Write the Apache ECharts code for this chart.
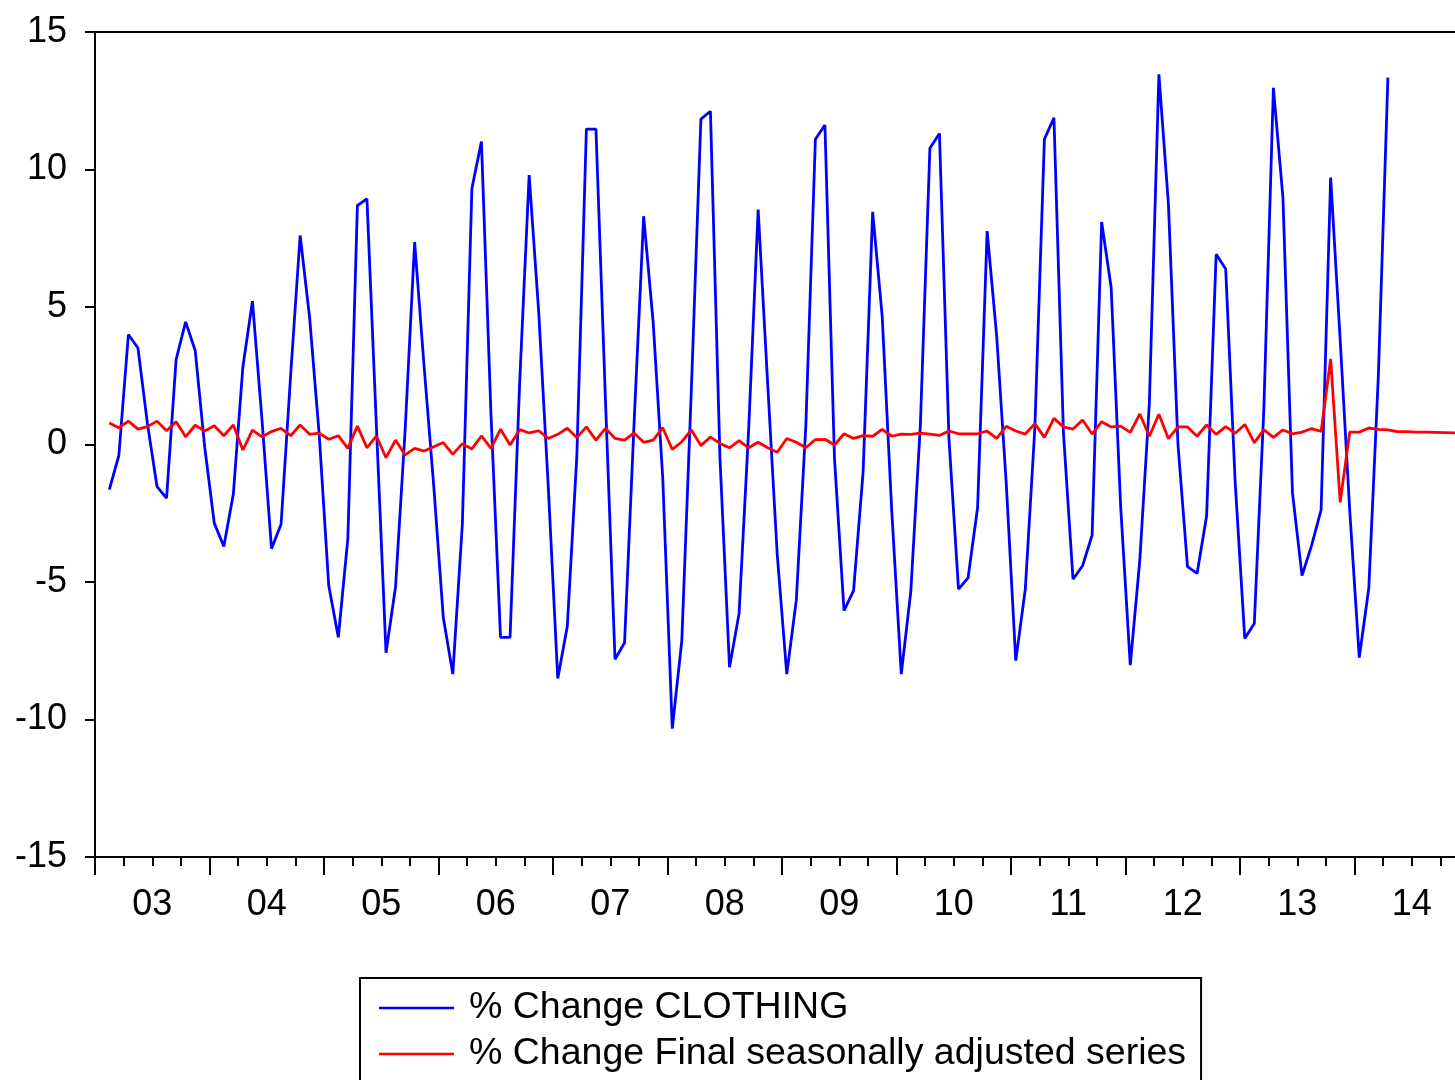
<!DOCTYPE html>
<html>
<head>
<meta charset="utf-8">
<script src="https://cdn.jsdelivr.net/npm/echarts@6/dist/echarts.min.js"></script>
<style>
html,body{margin:0;padding:0;background:#fff;overflow:hidden;}
#chart{width:1480px;height:1120px;}
</style>
</head>
<body>
<div id="chart"></div>
<script>
// Monthly axis: Jan 2003 (index 0) ... Dec 2014 (index 143)
const yearLabels = ['03','04','05','06','07','08','09','10','11','12','13','14'];
const firstIndex = 1; // both series start in Feb 2003

// % Change CLOTHING (Feb 2003 - Apr 2014)
const clothing = [
  -1.64,-0.40,4.00,3.51,0.75,-1.53,-1.95,3.09,4.46,3.42,-0.10,
  -2.86,-3.71,-1.80,2.83,5.21,0.90,-3.79,-2.90,2.50,7.60,4.59,0.35,
  -5.14,-7.01,-3.42,8.69,8.93,0.60,-7.57,-5.17,0.50,7.36,2.80,-1.50,
  -6.28,-8.35,-2.90,9.31,11.02,1.10,-7.01,-7.01,2.20,9.80,4.83,-1.50,
  -8.51,-6.61,-0.40,11.47,11.47,1.60,-7.81,-7.21,0.80,8.30,4.43,-1.20,
  -10.33,-7.13,2.00,11.83,12.12,-0.50,-8.10,-6.15,0.50,8.54,2.20,-4.00,
  -8.35,-5.66,0.70,11.10,11.62,-0.50,-6.04,-5.31,-1.00,8.46,4.67,-2.40,
  -8.35,-5.34,0.70,10.77,11.31,0.20,-5.26,-4.85,-2.29,7.76,3.94,-1.40,
  -7.86,-5.26,0.60,11.10,11.88,0.40,-4.90,-4.41,-3.30,8.09,5.70,-2.30,
  -8.02,-4.20,1.50,13.46,8.74,0.00,-4.44,-4.69,-2.60,6.92,6.38,-1.40,
  -7.05,-6.51,1.30,12.97,8.98,-1.76,-4.77,-3.68,-2.38,9.71,3.80,-2.40,
  -7.75,-5.22,2.50,13.34
];

// % Change Final seasonally adjusted series (Feb 2003 - Dec 2014)
const adjusted = [
  0.78,0.61,0.85,0.56,0.65,0.85,0.50,0.83,0.28,0.70,0.49,
  0.68,0.32,0.71,-0.20,0.52,0.28,0.47,0.59,0.32,0.71,0.37,0.41,
  0.19,0.32,-0.14,0.67,-0.12,0.31,-0.48,0.16,-0.38,-0.14,-0.24,-0.08,
  0.07,-0.36,0.03,-0.16,0.31,-0.14,0.56,-0.02,0.54,0.42,0.50,0.22,
  0.37,0.59,0.25,0.64,0.16,0.59,0.22,0.16,0.42,0.08,0.16,0.61,
  -0.18,0.10,0.53,-0.04,0.27,0.04,-0.12,0.14,-0.12,0.08,-0.12,-0.28,
  0.22,0.08,-0.12,0.18,0.19,-0.02,0.39,0.22,0.32,0.30,0.55,0.30,
  0.38,0.37,0.41,0.38,0.33,0.49,0.39,0.39,0.39,0.49,0.22,0.66,
  0.49,0.38,0.76,0.26,0.95,0.64,0.56,0.89,0.38,0.83,0.64,0.67,
  0.44,1.11,0.30,1.10,0.21,0.64,0.64,0.30,0.71,0.37,0.65,0.41,
  0.73,0.07,0.53,0.26,0.53,0.39,0.45,0.58,0.48,3.11,-2.10,0.45,
  0.45,0.60,0.55,0.53,0.47,0.47,0.45,0.45,0.44,0.43,0.42,0.42
];

const seriesNames = ['% Change CLOTHING', '% Change Final seasonally adjusted series'];

function toPairs(vals){
  return vals.map((v,k)=>[firstIndex + k + 0.5, v]);
}

const FONT = 'Arial, "Liberation Sans", sans-serif';
const chart = echarts.init(document.getElementById('chart'), null, {renderer:'canvas'});
chart.setOption({
  animation:false,
  backgroundColor:'#fff',
  grid:{left:95, right:11, top:32, bottom:263, show:true, borderColor:'#000', borderWidth:2, backgroundColor:'transparent'},
  xAxis:[
    {type:'value', min:0, max:144, interval:12, position:'bottom',
     axisLine:{show:true, onZero:false, lineStyle:{color:'#000', width:2}},
     axisTick:{show:true, inside:false, length:18, lineStyle:{color:'#000', width:2}},
     minorTick:{show:true, splitNumber:4, length:9, lineStyle:{color:'#000', width:2}},
     axisLabel:{show:false}, splitLine:{show:false}, minorSplitLine:{show:false}},
    {type:'value', min:0, max:144, interval:6, position:'bottom',
     axisLine:{show:false}, axisTick:{show:false}, splitLine:{show:false},
     axisLabel:{show:true, margin:30, color:'#000', fontSize:36, fontFamily:FONT,
       formatter:function(v){ return (v % 12 === 6) ? yearLabels[(v-6)/12] : ''; }}}
  ],
  yAxis:{type:'value', min:-15, max:15, interval:5,
    axisLine:{show:true, onZero:false, lineStyle:{color:'#000', width:2}},
    axisTick:{show:true, length:10, lineStyle:{color:'#000', width:2}},
    axisLabel:{color:'#000', fontSize:36, fontFamily:FONT, margin:28},
    splitLine:{show:false}},
  legend:{
    orient:'vertical', left:360, top:978,
    data:seriesNames.map(n=>({name:n, icon:'rect'})),
    itemWidth:75, itemHeight:2.5, itemGap:6,
    borderColor:'#000', borderWidth:2, borderRadius:0,
    padding:[10,15,20,19],
    textStyle:{color:'#000', fontSize:37.5, fontFamily:FONT, lineHeight:40, padding:[0,0,0,10]}
  },
  series:[
    {name:seriesNames[0], type:'line', xAxisIndex:0, data:toPairs(clothing),
     symbol:'none', lineStyle:{color:'#0000ff', width:2.8}, itemStyle:{color:'#0000ff'}},
    {name:seriesNames[1], type:'line', xAxisIndex:0, data:toPairs(adjusted),
     symbol:'none', lineStyle:{color:'#ff0000', width:2.8}, itemStyle:{color:'#ff0000'}}
  ]
});
</script>
</body>
</html>
